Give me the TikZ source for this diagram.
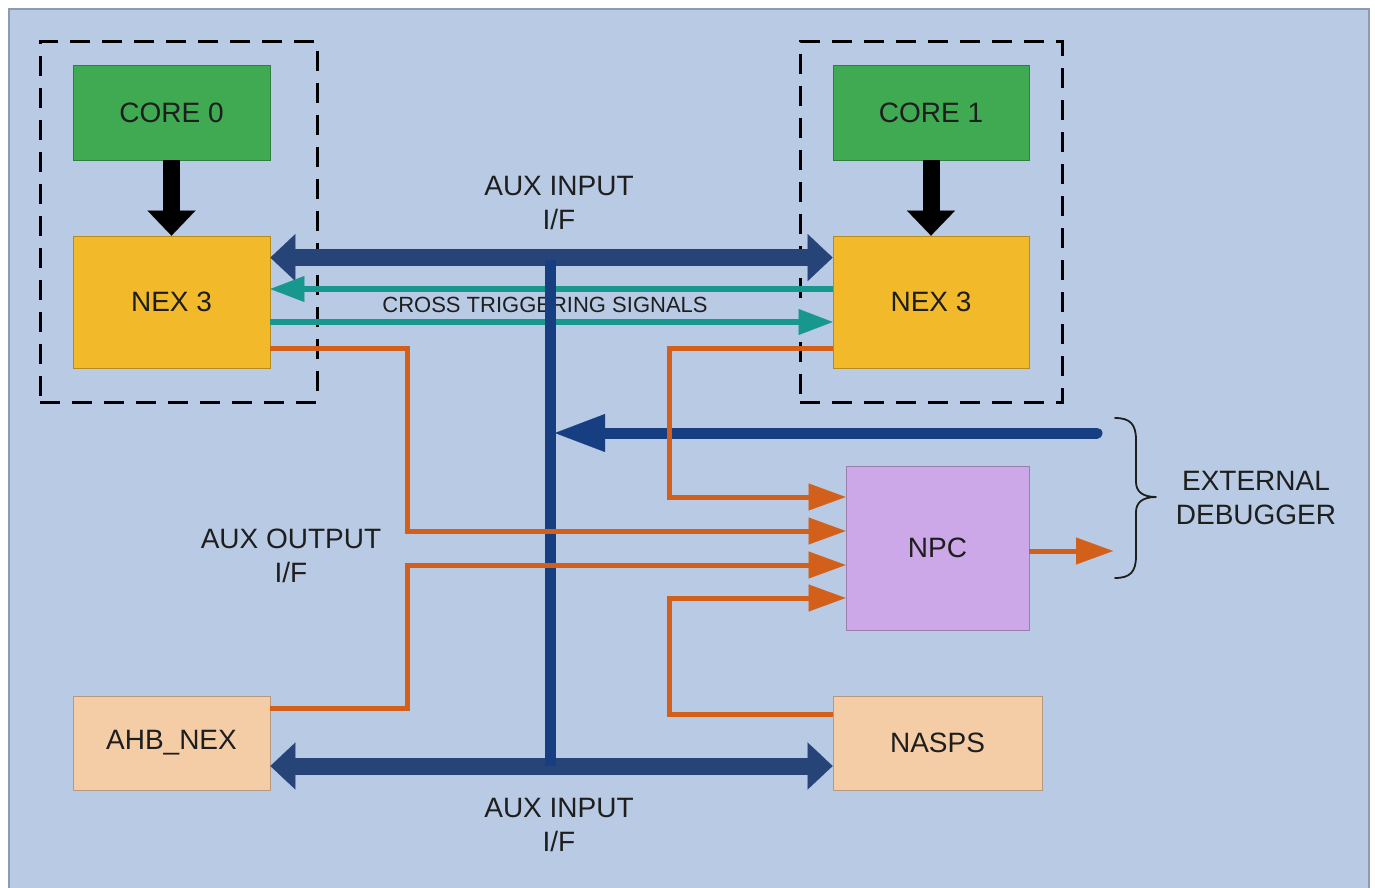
\documentclass[tikz,border=0pt]{standalone}
\usepackage{fontspec}
\setmainfont{Liberation Sans}
\usetikzlibrary{arrows.meta}

\definecolor{bgblue}{HTML}{B9CBE4}
\definecolor{framegray}{HTML}{8E9BB0}
\definecolor{coregreen}{HTML}{3FAA52}
\definecolor{nexyellow}{HTML}{F2BA2A}
\definecolor{npclilac}{HTML}{CDA8E8}
\definecolor{peach}{HTML}{F4CDA6}
\definecolor{busblue}{HTML}{264478}
\definecolor{navy}{HTML}{163E80}
\definecolor{sigteal}{HTML}{17978E}
\definecolor{sigorange}{HTML}{D2601A}
\definecolor{ink}{HTML}{1E1E1E}

\tikzset{
  blk/.style={rectangle, draw=#1!75!black, line width=0.8pt, fill=#1,
    text=ink, font=\fontsize{28}{34}\selectfont, inner sep=0pt},
  lbl/.style={text=ink, font=\fontsize{28}{34}\selectfont, align=center, inner sep=0pt},
  groupbox/.style={draw=black, line width=3pt, dash pattern=on 20pt off 12pt, rectangle, inner sep=0pt},
  widebus/.style={draw=busblue, line width=17pt,
    {Triangle[length=25pt,width=47pt,line width=0.1pt]}-{Triangle[length=25pt,width=47pt,line width=0.1pt]}},
  feed/.style={draw=black, line width=17pt, -{Triangle[length=25pt,width=48pt,line width=0.1pt]}},
  trig/.style={draw=sigteal, line width=5.5pt, -{Triangle[length=34pt,width=26pt,line width=0.1pt]}},
  aux/.style={draw=sigorange, line width=5pt, -{Triangle[length=37pt,width=27pt,line width=0.1pt]}},
  dbgline/.style={draw=navy, line width=11pt, line cap=round, -{Triangle[length=50pt,width=38pt,line width=0.1pt]}},
  spine/.style={draw=navy, line width=11pt},
}

\begin{document}
\begin{tikzpicture}[x=1pt,y=-1pt]
  \useasboundingbox (0,0) rectangle (1375,888);
  % panel
  \fill[white] (0,0) rectangle (1375,888);
  \draw[fill=bgblue, draw=framegray, line width=1.5pt] (9,9) rectangle (1369,895);

  % core groups
  \node[groupbox, minimum width=277pt, minimum height=360pt] (grp0) at (178.5,222) {};
  \node[groupbox, minimum width=262pt, minimum height=360pt] (grp1) at (931,222) {};

  % blocks
  \node[blk=coregreen, minimum width=197pt, minimum height=95pt] (core0) at (171.5,112.5) {CORE 0};
  \node[blk=coregreen, minimum width=196pt, minimum height=95pt] (core1) at (931,112.5) {CORE 1};
  \node[blk=nexyellow, minimum width=197pt, minimum height=132pt] (nexL) at (171.5,302) {NEX 3};
  \node[blk=nexyellow, minimum width=196pt, minimum height=132pt] (nexR) at (931,302) {NEX 3};
  \node[blk=npclilac, minimum width=183pt, minimum height=164pt] (npc) at (937.5,548) {NPC};
  \node[blk=peach, minimum width=197pt, minimum height=94pt] (ahb) at (171.5,743) {AHB\_NEX};
  \node[blk=peach, minimum width=209pt, minimum height=94pt] (nasps) at (937.5,743) {NASPS};

  % core to NEX
  \draw[feed] (core0.south) -- (nexL.north);
  \draw[feed] (core1.south) -- (nexR.north);

  % aux input buses
  \draw[widebus] ([yshift=-22pt]nexL.north east) -- ([yshift=-22pt]nexR.north west);
  \draw[widebus] ([yshift=-23pt]ahb.east) -- ([yshift=-23pt]nasps.west);

  % cross triggering
  \draw[trig] ([yshift=13pt]nexR.west) -- ([yshift=13pt]nexL.east);
  \draw[trig] ([yshift=-20pt]nexL.east) -- ([yshift=-20pt]nexR.west);
  \node[text=ink, font=\fontsize{22}{26}\selectfont, inner sep=0pt] (ctlbl) at (545,305) {CROSS TRIGGERING SIGNALS};

  % spine of the aux input bus
  \coordinate (spT) at (550,260);
  \coordinate (spB) at (550,766);
  \draw[spine] (spT) -- (spB);

  % external debugger input
  \coordinate (dbg) at (1097,433);
  \draw[dbgline] (dbg) -- ([xshift=5pt]spT |- dbg);

  % aux output routing into NPC
  \coordinate (in1) at ([yshift=51pt]npc.west);
  \coordinate (in2) at ([yshift=17pt]npc.west);
  \coordinate (in3) at ([yshift=-17pt]npc.west);
  \coordinate (in4) at ([yshift=-50pt]npc.west);
  \coordinate (xl) at (407,0);
  \coordinate (xr) at (669,0);
  \draw[aux] ([yshift=-46pt]nexR.west) -| (xr |- in1) -- (in1);
  \draw[aux] ([yshift=-46pt]nexL.east) -| (xl |- in2) -- (in2);
  \draw[aux] ([yshift=35pt]ahb.east) -| (xl |- in3) -- (in3);
  \draw[aux] ([yshift=29pt]nasps.west) -| (xr |- in4) -- (in4);

  % NPC output
  \coordinate (npcout) at (1113,551);
  \draw[aux] (npc.east |- npcout) -- (npcout);

  % brace for the external debugger
  \draw[ink, line width=1.8pt, line cap=round, line join=round]
    (1115,418) .. controls (1130,418) and (1136,424) .. (1136,440) -- (1136,482)
    .. controls (1136,491) and (1142,497) .. (1156,497)
    .. controls (1142,497) and (1136,503) .. (1136,512) -- (1136,556)
    .. controls (1136,572) and (1130,578) .. (1115,578);

  % labels
  \node[lbl] (auxinT) at (559,203) {AUX INPUT\\I/F};
  \node[lbl] (auxout) at (291,556) {AUX OUTPUT\\I/F};
  \node[lbl] (auxinB) at (559,825) {AUX INPUT\\I/F};
  \node[lbl] (extdbg) at (1256,498) {EXTERNAL\\DEBUGGER};
\end{tikzpicture}
\end{document}
